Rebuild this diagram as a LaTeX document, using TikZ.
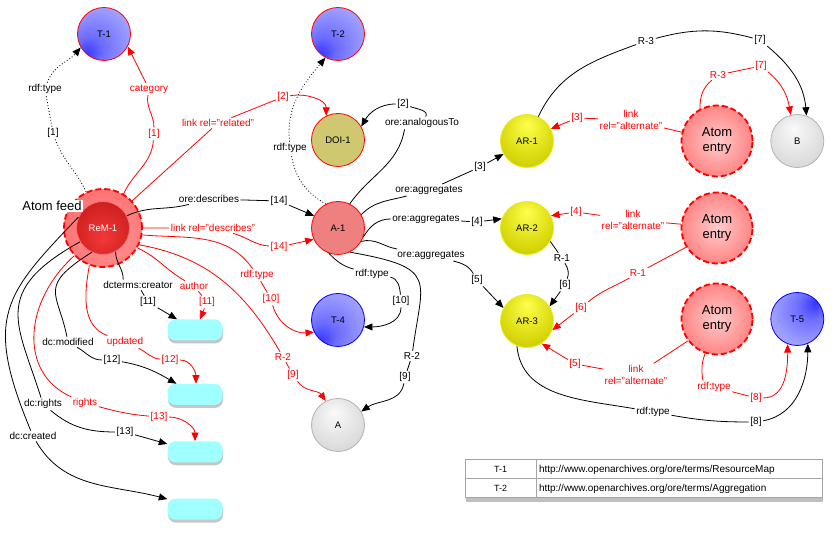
\documentclass[tikz,border=0pt]{standalone}
\usepackage{fontspec}
\setmainfont{Liberation Sans}
\usepackage{xcolor}
\usetikzlibrary{arrows.meta, positioning, shadows}

\definecolor{doicol}{RGB}{208,200,112}
\definecolor{acol}{RGB}{238,128,128}
\definecolor{litcol}{RGB}{160,255,255}
\definecolor{feedrim}{RGB}{255,110,110}
\definecolor{arrim}{RGB}{235,235,20}
\definecolor{tablegrey}{RGB}{165,165,165}

% Ball shadings
\pgfdeclareradialshading{tshadeLL}{\pgfpoint{-18bp}{-20bp}}{rgb(0bp)=(0.2,0.2,1); rgb(12bp)=(0.42,0.42,1); rgb(30bp)=(0.6,0.6,1); rgb(50bp)=(0.8,0.8,1)}
\pgfdeclareradialshading{tshadeUR}{\pgfpoint{18bp}{16bp}}{rgb(0bp)=(0.2,0.2,1); rgb(12bp)=(0.42,0.42,1); rgb(30bp)=(0.62,0.62,1); rgb(50bp)=(0.84,0.84,1)}
\pgfdeclareradialshading{arshade}{\pgfpoint{0bp}{16bp}}{rgb(0bp)=(1,1,0.3); rgb(25bp)=(0.85,0.85,0.05); rgb(50bp)=(0.66,0.66,0)}
\pgfdeclareradialshading{greyshade}{\pgfpoint{-4bp}{12bp}}{rgb(0bp)=(0.98,0.98,0.98); rgb(30bp)=(0.85,0.85,0.85); rgb(50bp)=(0.66,0.66,0.66)}
\pgfdeclareradialshading{entryshade}{\pgfpoint{0bp}{0bp}}{rgb(0bp)=(1,0.8,0.8); rgb(25bp)=(1,0.52,0.52); rgb(50bp)=(1,0.3,0.3)}
\pgfdeclareradialshading{feedshade}{\pgfpoint{6bp}{-8bp}}{rgb(0bp)=(1,0.6,0.6); rgb(50bp)=(1,0.33,0.33)}
\pgfdeclareradialshading{remshade}{\pgfpoint{0bp}{-10bp}}{rgb(0bp)=(0.96,0.22,0.22); rgb(30bp)=(0.80,0.12,0.12); rgb(50bp)=(0.64,0.08,0.08)}

\begin{document}
\begin{tikzpicture}[x=1pt, y=1pt]
    % Styles
    \tikzstyle{res} = [circle, minimum size=53pt, inner sep=0pt, line width=0.8pt, font=\fontsize{9.5}{11}\selectfont]
    \tikzstyle{tball} = [res, draw=red, shade, shading=tshadeLL]
    \tikzstyle{arball} = [res, draw=arrim, shade, shading=arshade]
    \tikzstyle{greyball} = [res, draw=gray!60, shade, shading=greyshade]
    \tikzstyle{entry} = [circle, minimum size=71pt, inner sep=0pt, draw=red, line width=1.8pt, dash pattern=on 6pt off 3pt, shade, shading=entryshade, align=center, font=\fontsize{13}{15}\selectfont]
    \tikzstyle{lit} = [rectangle, rounded corners=8pt, minimum width=55pt, minimum height=21pt, fill=litcol, drop shadow={shadow xshift=0.5pt, shadow yshift=-3pt, opacity=0.45}]
    \tikzstyle{cell} = [rectangle, draw=tablegrey, line width=1pt, fill=white, minimum height=19pt, inner sep=0pt, outer sep=0pt, drop shadow={shadow xshift=1pt, shadow yshift=-4pt, opacity=0.5}]
    \tikzstyle{lbl} = [inner sep=1.5pt, align=center, font=\fontsize{10}{12.5}\selectfont]
    \tikzstyle{rlbl} = [lbl, text=red]
    \tikzstyle{conn} = [-{Triangle[length=8.5pt, width=7pt]}, line width=0.8pt]
    \tikzstyle{rconn} = [conn, red]
    \tikzstyle{dotline} = [dash pattern=on 0.9pt off 2.1pt]

    \useasboundingbox (0,0) rectangle (836,534);

    % Resources
    \node[tball] (tone) at (104,500) {T-1};
    \node[tball] (ttwo) at (338,500) {T-2};
    \node[res, draw=red, fill=doicol] (doi) at (338,394) {DOI-1};
    \node[res, draw=red, fill=acol] (aone) at (338,306) {A-1};
    \node[tball, draw=blue] (tfour) at (338,214) {T-4};
    \node[greyball] (aa) at (338,109) {A};
    \node[arball] (arone) at (527,393) {AR-1};
    \node[arball] (artwo) at (527,306) {AR-2};
    \node[arball] (arthree) at (527,213) {AR-3};
    \node[entry] (aeone) at (717,393) {Atom\\entry};
    \node[entry] (aetwo) at (717,306) {Atom\\entry};
    \node[entry] (aethree) at (717,215) {Atom\\entry};
    \node[greyball, right=17pt of aeone] (bb) {B};
    \node[tball, draw=blue, shading=tshadeUR, right=17pt of aethree] (tfive) {T-5};

    % Atom feed
    \node[circle, minimum size=78pt, draw=red, line width=1.8pt, dash pattern=on 6pt off 3pt, shade, shading=feedshade] (rem) at (103,306) {};
    \node[res, draw=feedrim, shade, shading=remshade, text=white] (remin) at (rem.center) {ReM-1};

    % Literals
    \node[lit] (lit1) at (195,204) {};
    \node[lit, below=43pt of lit1] (lit2) {};
    \node[lit, below=36pt of lit2] (lit3) {};
    \node[lit, below=36pt of lit3] (lit4) {};

    % Black labels
    \node[lbl] (k1a) at (45,445) {rdf:type};
    \node[lbl] (k1b) at (53,401) {[1]};
    \node[lbl] (k2a) at (290,386) {rdf:type};
    \node[lbl] (k3a) at (422,411) {ore:analogousTo};
    \node[lbl] (k3b) at (403,430) {[2]};
    \node[lbl] (k4a) at (429,344) {ore:aggregates};
    \node[lbl] (k4b) at (480,367) {[3]};
    \node[lbl] (k5a) at (426,315) {ore:aggregates};
    \node[lbl] (k5b) at (477,312) {[4]};
    \node[lbl] (k6a) at (431,279) {ore:aggregates};
    \node[lbl] (k6b) at (477,254) {[5]};
    \node[lbl] (k7a) at (372,260) {rdf:type};
    \node[lbl] (k7b) at (401,233) {[10]};
    \node[lbl] (k8a) at (412,178) {R-2};
    \node[lbl] (k8b) at (405,157) {[9]};
    \node[lbl] (k9a) at (209,335) {ore:describes};
    \node[lbl] (k9b) at (279,333) {[14]};
    \node[lbl] (k10a) at (646,493) {R-3};
    \node[lbl] (k10b) at (760,494) {[7]};
    \node[lbl] (k11a) at (562,276) {R-1};
    \node[lbl] (k11b) at (565,249) {[6]};
    \node[lbl] (k12a) at (653,122) {rdf:type};
    \node[lbl] (k12b) at (756,112) {[8]};
    \node[lbl] (k13a) at (138,249) {dcterms:creator};
    \node[lbl] (k13b) at (148,232) {[11]};
    \node[lbl] (k14a) at (68,192) {dc:modified};
    \node[lbl] (k14b) at (112,174) {[12]};
    \node[lbl] (k15a) at (43,130) {dc:rights};
    \node[lbl] (k15b) at (125,102) {[13]};
    \node[lbl] (k16a) at (33,98) {dc:created};

    % Red labels
    \node[rlbl] (r1a) at (149,445) {category};
    \node[rlbl] (r1b) at (154,400) {[1]};
    \node[rlbl] (r2a) at (218,411) {link rel="related"};
    \node[rlbl] (r2b) at (283,437) {[2]};
    \node[rlbl] (r3a) at (213,306) {link rel="describes"};
    \node[rlbl] (r3b) at (279,287) {[14]};
    \node[rlbl] (r4a) at (257,259) {rdf:type};
    \node[rlbl] (r4b) at (271,235) {[10]};
    \node[rlbl] (r5a) at (283,177) {R-2};
    \node[rlbl] (r5b) at (293,159) {[9]};
    \node[rlbl] (r6a) at (194,248) {author};
    \node[rlbl] (r6b) at (207,232) {[11]};
    \node[rlbl] (r7a) at (125,192) {updated};
    \node[rlbl] (r7b) at (170,174) {[12]};
    \node[rlbl] (r8a) at (85,131) {rights};
    \node[rlbl] (r8b) at (159,117) {[13]};
    \node[rlbl] (r9a) at (631,414) {link\\rel="alternate"};
    \node[rlbl] (r9b) at (577,416) {[3]};
    \node[rlbl] (r10a) at (718,459) {R-3};
    \node[rlbl] (r10b) at (761,468) {[7]};
    \node[rlbl] (r11a) at (633,314) {link\\rel="alternate"};
    \node[rlbl] (r11b) at (576,322) {[4]};
    \node[rlbl] (r12a) at (638,261) {R-1};
    \node[rlbl] (r12b) at (581,226) {[6]};
    \node[rlbl] (r13a) at (636,159) {link\\rel="alternate"};
    \node[rlbl] (r13b) at (575,170) {[5]};
    \node[rlbl] (r14a) at (714,147) {rdf:type};
    \node[rlbl] (r14b) at (756,136) {[8]};

    % Black connectors
    \draw[conn, dotline] (rem.115) to[out=115,in=-70] (k1b) to[out=100,in=-80] (k1a) to[out=70,in=-130] (tone.210);
    \draw[conn, dotline] (aone.117) to[out=150,in=-80] (k2a) to[out=95,in=-130] (ttwo.242);
    \draw[conn] (aone.64) to[out=55,in=-100] (k3a.200) (k3a) to[out=60,in=-20] (k3b) to[out=180,in=60] (doi.30);
    \draw[conn] (aone.30) to[out=45,in=195] (k4a) -- (k4b) -- (arone.209);
    \draw[conn] (aone.-20) to[out=60,in=180] (k5a) -- (k5b) -- (artwo.160);
    \draw[conn] (aone.-30) to[out=15,in=170] (k6a) to[out=-15,in=120] (k6b) -- (arthree.151);
    \draw[conn] (aone.250) to[out=-45,in=165] (k7a) to[out=-10,in=95] (k7b) to[out=-90,in=0] (tfour.-15);
    \draw[conn] (aone.-64) .. controls (440,266) and (422,255) .. (k8a) -- (k8b) to[out=-100,in=35] (aa.30);
    \draw[conn] (remin.27) to[out=25,in=195] (k9a) -- (k9b) -- (aone.153);
    \draw[conn] (arone.65) to[out=65,in=200] (k10a) to[out=15,in=165] (k10b) to[out=-40,in=95] (bb.70);
    \draw[conn] (artwo.-30) -- (k11a) to[out=-60,in=70] (k11b) -- (arthree.33);
    \draw[conn] (arthree.-112) to[out=-85,in=170] (k12a) to[out=-10,in=180] (k12b) to[out=10,in=-90] (tfive.-67);
    \draw[conn] (remin.-62) to[out=-90,in=90] (k13a.160) (k13a) -- (k13b) -- (lit1);
    \draw[conn] (remin.-115) .. controls (37,247) and (58,242) .. (k14a) to[out=-30,in=180] (k14b) to[out=-10,in=150] (lit2.150);
    \draw[conn] (remin.211) .. controls (-10,242) and (18,210) .. (k15a) to[out=-40,in=180] (k15b) -- (lit3);
    \draw[conn] (remin.156) .. controls (5,240) and (-17,218) .. (k16a) to[out=-60,in=165] (lit4.160);

    % Red connectors
    \draw[rconn] (rem.59) to[out=65,in=-95] (r1b) to[out=90,in=-100] (r1a) -- (tone.-28);
    \draw[rconn] (rem.43) -- (r2a) -- (r2b) to[out=10,in=90] (doi.116);
    \draw[rconn] (rem.0) -- (r3a) to[out=-15,in=175] (r3b) -- (aone.205);
    \draw[rconn] (rem.-10) to[out=-5,in=125] (r4a) -- (r4b) to[out=-75,in=185] (tfour.207);
    \draw[rconn] (rem.-25) to[out=-10,in=120] (r5a) -- (r5b) to[out=-55,in=125] (aa.117);
    \draw[rconn] (rem.-30) to[out=-25,in=150] (r6a) -- (r6b) -- (lit1.65);
    \draw[rconn] (rem.-110) to[out=-100,in=160] (r7a) to[out=-25,in=175] (r7b) to[out=0,in=90] (lit2.85);
    \draw[rconn] (rem.224) .. controls (24,233) and (18,161) .. (r8a) to[out=-15,in=175] (r8b) to[out=0,in=90] (lit3.90);
    \draw[rconn] (aeone.166) -- (r9a) -- (r9b) -- (arone.27);
    \draw[rconn] (aeone.118) to[out=90,in=-140] (r10a) -- (r10b) to[out=-40,in=100] (bb.104);
    \draw[rconn] (aetwo.174) -- (r11a) -- (r11b) -- (artwo.27);
    \draw[rconn] (aetwo.212) -- (r12a) to[out=-150,in=40] (r12b) -- (arthree.-20);
    \draw[rconn] (aethree.217) -- (r13a) -- (r13b) -- (arthree.-57);
    \draw[rconn] (aethree.251) to[out=-110,in=100] (r14a.150) (r14a) -- (r14b) to[out=0,in=-90] (tfive.-111);

    \node[fill=white, inner sep=1pt, font=\fontsize{13}{15}\selectfont] (feed) at (52,328) {Atom feed};

    % Legend table
    \node[cell, minimum width=71pt, font=\fontsize{9}{11}\selectfont] (key1) at (500.5,64.5) {T-1};
    \node[cell, text width=280pt, inner xsep=3pt, align=left, font=\fontsize{10}{12}\selectfont, right=0pt of key1] (uri1) {http://www.openarchives.org/ore/terms/ResourceMap};
    \node[cell, minimum width=71pt, font=\fontsize{9}{11}\selectfont, below=0pt of key1] (key2) {T-2};
    \node[cell, text width=280pt, inner xsep=3pt, align=left, font=\fontsize{10}{12}\selectfont, right=0pt of key2] (uri2) {http://www.openarchives.org/ore/terms/Aggregation};
\end{tikzpicture}
\end{document}
